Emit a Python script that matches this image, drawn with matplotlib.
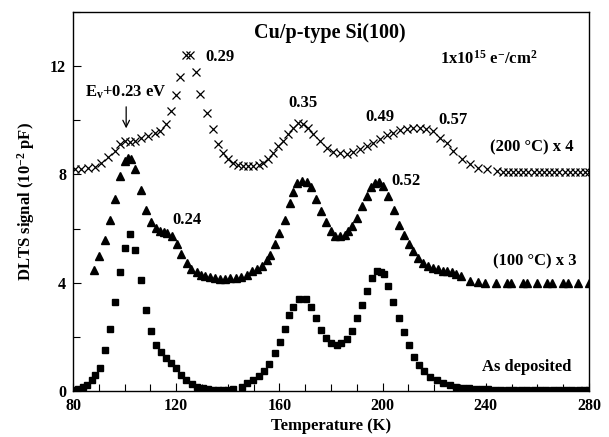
import matplotlib
matplotlib.use("Agg")
import matplotlib.pyplot as plt
from matplotlib.ticker import MultipleLocator

plt.rcParams['font.family'] = ['Liberation Serif', 'DejaVu Serif']
plt.rcParams['font.weight'] = 'bold'
plt.rcParams['mathtext.fontset'] = 'custom'
plt.rcParams['mathtext.rm'] = 'Liberation Serif:bold'
plt.rcParams['mathtext.it'] = 'Liberation Serif:bold'
plt.rcParams['mathtext.bf'] = 'Liberation Serif:bold'
plt.rcParams['mathtext.default'] = 'regular'

# As deposited (squares)
t_dep = [80.5, 82.1, 84.0, 85.3, 87.2, 88.5, 90.5, 92.4, 94.3, 96.3, 98.3, 100.2, 102.1, 104.0,
         106.2, 108.3, 110.2, 112.2, 114.0, 116.0, 117.9, 119.9, 121.7, 123.8, 126.0, 127.9,
         130.5, 132.5, 134.4, 136.3, 138.2, 140.2, 142.1, 145.4, 147.3, 149.9, 152.2, 154.0,
         156.0, 158.3, 160.2, 162.2, 163.8, 165.4, 167.5, 170.3, 172.3, 174.3, 176.2, 178.0,
         180.1, 182.2, 184.0, 186.0, 188.2, 190.1, 192.1, 194.1, 195.8, 197.7, 199.2, 200.5,
         202.0, 204.2, 206.4, 208.3, 210.4, 212.3, 214.1, 216.0, 218.4, 221.0, 223.5, 226.0,
         228.5, 231.0, 233.5, 236.0, 238.5, 241.0, 243.5, 246.0, 248.5, 251.0, 253.5, 256.0,
         258.5, 261.0, 263.5, 266.0, 268.5, 271.0, 273.5, 276.0, 278.0, 280.0]
v_dep = [0.05, 0.06, 0.15, 0.22, 0.41, 0.59, 0.84, 1.52, 2.30, 3.30, 4.40, 5.30, 5.80, 5.20,
         4.10, 3.00, 2.20, 1.70, 1.45, 1.21, 1.02, 0.84, 0.59, 0.41, 0.26, 0.16,
         0.10, 0.06, 0.04, 0.03, 0.04, 0.05, 0.06, 0.16, 0.28, 0.41, 0.56, 0.75,
         1.00, 1.40, 1.80, 2.30, 2.80, 3.10, 3.40, 3.40, 3.10, 2.70, 2.26, 1.97,
         1.76, 1.70, 1.78, 1.91, 2.20, 2.70, 3.19, 3.70, 4.17, 4.42, 4.40, 4.33,
         3.89, 3.30, 2.70, 2.17, 1.70, 1.27, 0.96, 0.72, 0.53, 0.41, 0.30, 0.22,
         0.16, 0.12, 0.10, 0.08, 0.07, 0.06, 0.05, 0.05, 0.04, 0.04, 0.04, 0.03,
         0.03, 0.03, 0.03, 0.02, 0.02, 0.02, 0.02, 0.02, 0.02, 0.02]

# (100 C) x 3 (triangles)
t_100 = [88.2, 90.1, 92.3, 94.2, 96.2, 98.1, 100.0, 101.2, 102.4, 104.0, 106.2, 108.3, 110.2,
         112.0, 113.8, 115.2, 116.6, 118.5, 120.3, 122.0, 124.2, 125.9, 127.9, 129.5, 131.0,
         133.0, 135.0, 137.0, 139.0, 141.0, 143.0, 145.0, 147.5, 149.3, 151.2, 153.1, 155.0,
         156.4, 158.3, 160.0, 162.2, 164.0, 165.4, 166.7, 168.6, 170.6, 172.2, 174.2, 176.0,
         178.0, 180.0, 181.7, 183.5, 185.4, 186.7, 188.3, 189.9, 191.9, 193.8, 195.4, 197.1,
         198.5, 200.3, 202.2, 204.4, 206.4, 208.3, 210.1, 211.9, 213.8, 215.8, 217.7, 219.7,
         221.5, 223.3, 225.0, 226.8, 228.5, 230.2, 233.9, 237.1, 239.7, 244.0, 248.1, 249.7,
         254.5, 256.1, 259.7, 263.6, 265.6, 270.1, 272.0, 275.9, 279.8]
v_100 = [4.48, 5.00, 5.57, 6.33, 7.11, 7.94, 8.49, 8.60, 8.58, 8.21, 7.42, 6.70, 6.23,
         6.02, 5.92, 5.88, 5.84, 5.71, 5.44, 5.06, 4.73, 4.50, 4.38, 4.30, 4.25,
         4.20, 4.17, 4.15, 4.15, 4.16, 4.18, 4.22, 4.30, 4.42, 4.50, 4.63, 4.85,
         5.04, 5.43, 5.84, 6.33, 6.93, 7.34, 7.69, 7.75, 7.71, 7.54, 7.10, 6.64,
         6.23, 5.90, 5.74, 5.71, 5.77, 5.90, 6.10, 6.40, 6.83, 7.20, 7.54, 7.69,
         7.72, 7.57, 7.20, 6.67, 6.15, 5.78, 5.43, 5.16, 4.91, 4.73, 4.60, 4.55,
         4.50, 4.45, 4.42, 4.38, 4.33, 4.23, 4.05, 4.02, 4.00, 4.00, 4.00, 4.00,
         4.00, 4.00, 4.00, 4.00, 4.00, 4.00, 4.00, 4.00, 4.00]

# (200 C) x 4 (crosses)
t_200 = [80.6, 83.2, 85.8, 88.4, 91.0, 93.6, 96.2, 98.1, 100.0, 102.0, 103.9, 106.5, 109.1,
         111.7, 113.8, 116.2, 118.1, 120.0, 121.6, 123.9, 125.5, 127.8, 129.3, 132.0, 134.3,
         136.0, 138.1, 140.1, 142.0, 144.0, 146.0, 148.0, 149.9, 151.9, 153.8, 155.7, 157.6,
         159.6, 161.5, 163.4, 165.4, 167.3, 169.3, 171.2, 173.1, 175.7, 178.3, 180.9, 183.5,
         186.1, 188.6, 191.2, 193.8, 196.4, 199.0, 201.6, 204.1, 206.7, 209.3, 211.9, 214.5,
         217.0, 219.6, 222.2, 224.8, 227.4, 230.7, 233.9, 237.1, 240.3, 244.2, 246.5, 248.5,
         250.5, 252.5, 254.5, 256.5, 258.5, 260.5, 262.5, 264.5, 266.5, 268.5, 270.5, 272.5,
         274.5, 276.5, 278.5, 280.0]
v_200 = [8.19, 8.19, 8.25, 8.28, 8.43, 8.64, 8.86, 9.11, 9.23, 9.20, 9.23, 9.36, 9.42,
         9.52, 9.60, 9.85, 10.34, 10.93, 11.60, 12.40, 12.40, 11.79, 10.96, 10.28, 9.69,
         9.11, 8.80, 8.56, 8.43, 8.33, 8.30, 8.30, 8.30, 8.33, 8.43, 8.56, 8.80,
         9.05, 9.23, 9.48, 9.73, 9.89, 9.88, 9.73, 9.48, 9.23, 8.99, 8.83, 8.78,
         8.74, 8.83, 8.95, 9.05, 9.17, 9.32, 9.44, 9.54, 9.64, 9.69, 9.72, 9.70,
         9.69, 9.60, 9.36, 9.17, 8.86, 8.56, 8.37, 8.25, 8.19, 8.12, 8.10, 8.09,
         8.08, 8.08, 8.08, 8.08, 8.08, 8.08, 8.08, 8.08, 8.08, 8.08, 8.08, 8.08,
         8.08, 8.08, 8.08, 8.08]

x_ticks = [80, 120, 160, 200, 240, 280]
y_ticks = [0, 4, 8, 12]

fig = plt.figure(figsize=(6.09, 4.37), dpi=100)
ax = fig.add_axes([0.1199, 0.1053, 0.8473, 0.8672])

ax.plot(t_dep, v_dep, ls='none', marker='s', ms=4.6, color='black', mec='black')
ax.plot(t_100, v_100, ls='none', marker='^', ms=5.6, color='black', mec='black')
ax.plot(t_200, v_200, ls='none', marker='x', ms=5.6, mew=0.9, color='black')

ax.set_xlim(80, 280)
ax.set_ylim(0, 14)
ax.set_xticks(x_ticks)
ax.set_yticks(y_ticks)
ax.xaxis.set_minor_locator(MultipleLocator(10))
ax.yaxis.set_minor_locator(MultipleLocator(2))
ax.tick_params(which='both', direction='in', top=False, right=False, width=0.8, labelsize=11.5)
ax.tick_params(which='major', length=6, pad=5)
ax.tick_params(which='minor', length=5)
for lab in ax.get_xticklabels() + ax.get_yticklabels():
    lab.set_fontweight('bold')
for s in ax.spines.values():
    s.set_linewidth(1.0)

ax.set_xlabel('Temperature (K)', fontsize=12, fontweight='bold', labelpad=3)
ax.set_ylabel('DLTS signal (10$^{-2}$ pF)', fontsize=12, fontweight='bold', labelpad=9)

fs = 12
ax.text(179.6, 13.22, 'Cu/p-type Si(100)', ha='center', va='center', fontsize=14.5, fontweight='bold')
ax.text(241.2, 12.26, '1x10$^{15}$ e$^{-}$/cm$^{2}$', ha='center', va='center', fontsize=12, fontweight='bold')
ax.text(131.2, 12.33, '0.29', ha='left', va='center', fontsize=fs, fontweight='bold')
ax.text(169.1, 10.63, '0.35', ha='center', va='center', fontsize=fs, fontweight='bold')
ax.text(199.0, 10.11, '0.49', ha='center', va='center', fontsize=fs, fontweight='bold')
ax.text(227.3, 10.0, '0.57', ha='center', va='center', fontsize=fs, fontweight='bold')
ax.text(257.9, 9.0, '(200 \u00b0C) x 4', ha='center', va='center', fontsize=fs, fontweight='bold')
ax.text(124.2, 6.33, '0.24', ha='center', va='center', fontsize=fs, fontweight='bold')
ax.text(209.1, 7.74, '0.52', ha='center', va='center', fontsize=fs, fontweight='bold')
ax.text(259.1, 4.78, '(100 \u00b0C) x 3', ha='center', va='center', fontsize=fs, fontweight='bold')
ax.text(256.0, 0.89, 'As deposited', ha='center', va='center', fontsize=fs, fontweight='bold')
ax.text(100.5, 11.04, 'E$_{v}$+0.23 eV', ha='center', va='center', fontsize=fs, fontweight='bold')

ax.annotate('', xy=(100.6, 9.6), xytext=(100.6, 10.6),
            arrowprops=dict(arrowstyle='->', color='black', lw=0.9, mutation_scale=12))

fig.savefig('out.png', dpi=100)
